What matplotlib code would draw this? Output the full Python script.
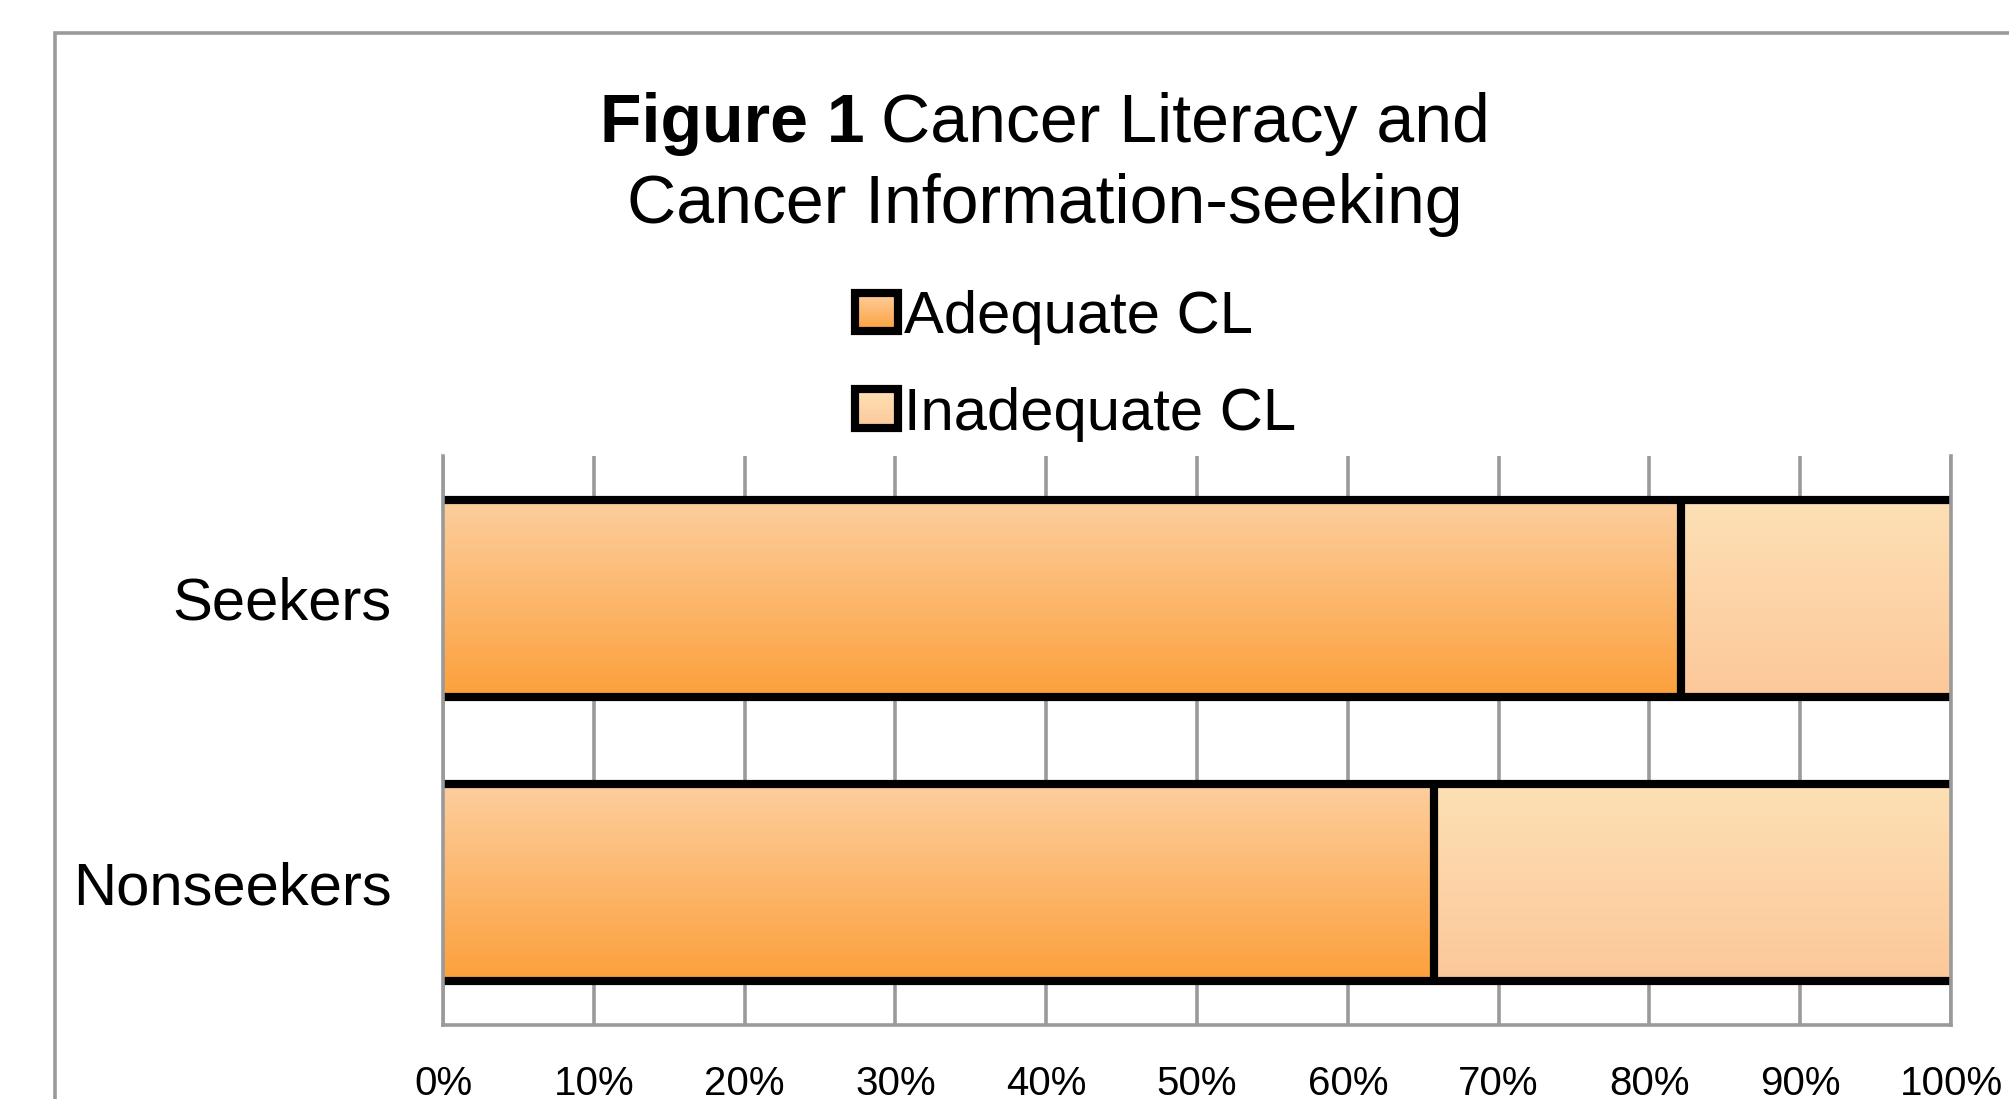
import numpy as np
import matplotlib
matplotlib.use('Agg')
import matplotlib.pyplot as plt
from matplotlib.colors import to_rgb
from matplotlib.patches import Rectangle
from matplotlib.legend_handler import HandlerBase

plt.rcParams['font.family'] = ['Liberation Sans', 'DejaVu Sans']

# share of each group with adequate / inadequate cancer literacy (%)
groups = ['Seekers', 'Nonseekers']
adequate = [82.1, 65.7]
inadequate = [17.9, 34.3]
series_names = ['Adequate CL', 'Inadequate CL']
x_ticks = [0, 10, 20, 30, 40, 50, 60, 70, 80, 90, 100]

# gradient colours, top -> bottom
adq_colors = ('#FDCE9D', '#FCA03C')
inq_colors = ('#FDE0B5', '#FCC899')

W, H, DPI = 2009, 1099, 100
fig = plt.figure(figsize=(W / DPI, H / DPI), dpi=DPI)

def px(x, y):
    # pixel position (from top-left) -> figure fraction
    return x / W, 1 - y / H

def grad(c_top, c_bot, n=64):
    a, b = np.array(to_rgb(c_top)), np.array(to_rgb(c_bot))
    t = np.linspace(0, 1, n)[:, None]
    g = a * (1 - t) + b * t
    return g[:, None, :]

# grey chart-area border (runs off the right and bottom)
fig.patches.append(Rectangle(px(55, 1300), 3000 / W, 1267 / H, transform=fig.transFigure,
                             fill=False, edgecolor='#9a9a9a', linewidth=2.6, zorder=0))

l, b = px(443, 1025)
r, t = px(1951, 456)
ax = fig.add_axes([l, b, r - l, t - b])

ypos = [1, 0]
bar_h = 0.692
edge_lw = 5.9

left = [0] * len(groups)
for vals, cols in [(adequate, adq_colors), (inadequate, inq_colors)]:
    bars = ax.barh(ypos, vals, left=left, height=bar_h, color='none', edgecolor='none', zorder=2)
    for patch, y, x0, v in zip(bars.patches, ypos, left, vals):
        im = ax.imshow(grad(*cols), extent=(x0, x0 + v, y - bar_h / 2, y + bar_h / 2),
                       origin='upper', aspect='auto', interpolation='bilinear', zorder=2)
        im.set_clip_path(patch)
    left = [a + v for a, v in zip(left, vals)]

# black outlines: top/bottom of each bar and the split between segments
for y, a in zip(ypos, adequate):
    ax.hlines([y - bar_h / 2, y + bar_h / 2], -0.3, 100, colors='black', linewidth=edge_lw, zorder=3)
    ax.vlines(a, y - bar_h / 2 - 0.01, y + bar_h / 2, colors='black', linewidth=edge_lw, zorder=3)

ax.set_xlim(0, 100)
ax.set_ylim(-0.5, 1.5)
ax.set_xticks(x_ticks)
ax.set_xticklabels(['{}%'.format(v) for v in x_ticks])
ax.set_yticks(ypos)
ax.set_yticklabels(groups)
ax.tick_params(axis='x', length=0, pad=29, labelsize=29)
ax.tick_params(axis='y', length=0, pad=37, labelsize=43)

ax.grid(axis='x', color='#9a9a9a', linewidth=2.6, zorder=1)
ax.set_axisbelow(True)
for side in ['left', 'right', 'bottom']:
    ax.spines[side].set_color('#9a9a9a')
    ax.spines[side].set_linewidth(2.6)
    ax.spines[side].set_zorder(4)
ax.spines['top'].set_visible(False)

# title: bold "Figure 1" followed by regular text
renderer = fig.canvas.get_renderer()
t_bold = fig.text(0, 0, 'Figure 1', fontsize=49, fontweight='bold')
t_rest = fig.text(0, 0, 'Cancer Literacy and', fontsize=49)
w_bold = t_bold.get_window_extent(renderer).width
w_rest = t_rest.get_window_extent(renderer).width
gap = 16
x_start = 1045 - (w_bold + gap + w_rest) / 2
t_bold.set_position(px(x_start, 142))
t_rest.set_position(px(x_start + w_bold + gap, 142))
fig.text(*px(1045, 223), 'Cancer Information-seeking', fontsize=49, ha='center')

# legend with gradient keys
class GradKey:
    def __init__(self, colors):
        self.colors = colors

class GradHandler(HandlerBase):
    def create_artists(self, legend, orig_handle, xdescent, ydescent, width, height, fontsize, trans):
        n = 24
        g = grad(*orig_handle.colors, n=n)[::-1, 0, :]
        arts = []
        for i in range(n):
            arts.append(Rectangle((-xdescent, -ydescent + height * i / n), width, height / n * 1.05,
                                  facecolor=g[i], edgecolor='none', transform=trans))
        arts.append(Rectangle((-xdescent, -ydescent), width, height, fill=False,
                              edgecolor='black', linewidth=edge_lw, transform=trans))
        return arts

keys = [GradKey(adq_colors), GradKey(inq_colors)]
fig.legend(keys, series_names, handler_map={GradKey: GradHandler()},
           loc='upper left', bbox_to_anchor=px(855, 290), frameon=False, fontsize=43,
           handlelength=0.72, handleheight=0.62, handletextpad=0.1, labelspacing=0.7,
           borderpad=0, borderaxespad=0)

fig.savefig('out.png', dpi=DPI)
